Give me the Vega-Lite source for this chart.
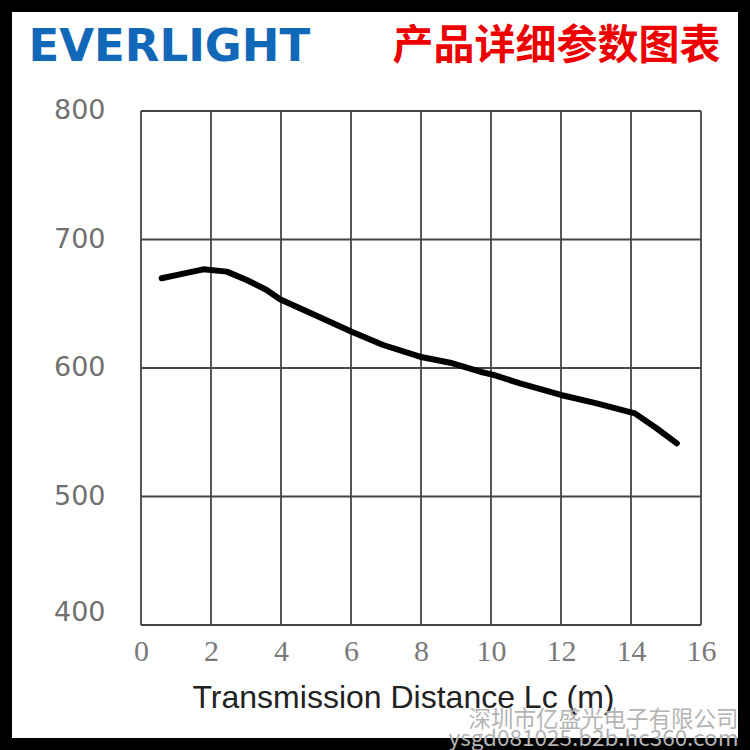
{
  "$schema": "https://vega.github.io/schema/vega-lite/v6.json",
  "width": 750,
  "height": 750,
  "autosize": {"type": "none"},
  "padding": 0,
  "background": "white",
  "config": {
    "view": {"stroke": "black", "strokeWidth": 24, "fill": "white"}
  },
  "datasets": {
    "curve": [
      {"d": 0.59, "p": 669.8},
      {"d": 1.11, "p": 672.9},
      {"d": 1.78, "p": 676.8},
      {"d": 2.45, "p": 675.0},
      {"d": 3.02, "p": 668.5},
      {"d": 3.59, "p": 660.7},
      {"d": 3.97, "p": 653.5},
      {"d": 4.54, "p": 646.5},
      {"d": 5.11, "p": 639.5},
      {"d": 6.02, "p": 628.2},
      {"d": 6.92, "p": 617.9},
      {"d": 7.97, "p": 608.8},
      {"d": 8.83, "p": 604.1},
      {"d": 9.69, "p": 597.1},
      {"d": 10.07, "p": 594.6},
      {"d": 10.83, "p": 588.1},
      {"d": 12.0, "p": 579.0},
      {"d": 13.02, "p": 572.5},
      {"d": 14.11, "p": 564.7},
      {"d": 14.73, "p": 553.1},
      {"d": 15.31, "p": 541.4}
    ],
    "vgrid": [
      {"gx": 0}, {"gx": 2}, {"gx": 4}, {"gx": 6}, {"gx": 8},
      {"gx": 10}, {"gx": 12}, {"gx": 14}, {"gx": 16}
    ],
    "hgrid": [
      {"gy": 400}, {"gy": 500}, {"gy": 600}, {"gy": 700}, {"gy": 800}
    ]
  },
  "resolve": {"axis": {"x": "independent", "y": "independent"}},
  "layer": [
    {
      "data": {"name": "vgrid"},
      "mark": {"type": "rule", "color": "#444444", "strokeWidth": 1.8},
      "encoding": {
        "x": {"field": "gx", "type": "quantitative", "axis": null,
              "scale": {"domain": [-4.0286, 17.4], "nice": false, "zero": false}},
        "y": {"datum": 400, "type": "quantitative",
              "scale": {"domain": [302.72, 886.38], "nice": false, "zero": false},
              "axis": {
                "orient": "right", "offset": 0, "labels": false, "ticks": false,
                "domain": false, "grid": false,
                "title": ["深圳市亿盛光电子有限公司", "ysgd081025.b2b.hc360.com"],
                "titleAngle": 0, "titleAlign": "right", "titleBaseline": "alphabetic",
                "titleX": -12, "titleY": 726, "titleLineHeight": 19,
                "titleFont": "Noto Sans CJK SC", "titleFontSize": 22.5,
                "titleFontWeight": "normal", "titleColor": "#b4b4b4"
              }},
        "y2": {"datum": 800}
      }
    },
    {
      "data": {"name": "hgrid"},
      "mark": {"type": "rule", "color": "#444444", "strokeWidth": 1.8},
      "encoding": {
        "y": {"field": "gy", "type": "quantitative", "axis": null,
              "scale": {"domain": [302.72, 886.38], "nice": false, "zero": false}},
        "x": {"datum": 0, "type": "quantitative",
              "scale": {"domain": [-4.0286, 17.4], "nice": false, "zero": false},
              "axis": {
                "orient": "top", "offset": 0, "labels": false, "ticks": false,
                "domain": false, "grid": false,
                "title": "产品详细参数图表",
                "titleAngle": 0, "titleAlign": "center", "titleBaseline": "middle",
                "titleX": 556, "titleY": 46,
                "titleFont": "Noto Sans CJK SC", "titleFontSize": 41,
                "titleFontWeight": "bold", "titleColor": "#ee0000"
              }},
        "x2": {"datum": 16}
      }
    },
    {
      "data": {"name": "curve"},
      "mark": {"type": "line", "color": "black", "strokeWidth": 6,
               "strokeCap": "round", "strokeJoin": "round", "interpolate": "linear"},
      "encoding": {
        "x": {"field": "d", "type": "quantitative",
              "scale": {"domain": [-4.0286, 17.4], "nice": false, "zero": false},
              "axis": {
                "orient": "bottom", "offset": -125,
                "values": [0, 2, 4, 6, 8, 10, 12, 14, 16],
                "ticks": false, "tickSize": 0, "domain": false, "grid": false,
                "labelFont": "Liberation Serif", "labelFontSize": 30,
                "labelColor": "#7a7a7a", "labelBaseline": "middle", "labelPadding": 26,
                "labelFlush": false, "labelOverlap": false,
                "title": "Transmission Distance Lc (m)",
                "titleFont": "Liberation Sans", "titleFontSize": 32,
                "titleFontWeight": "normal", "titleColor": "#222222",
                "titleAlign": "center", "titleBaseline": "alphabetic",
                "titleX": 403, "titleY": 82
              }},
        "y": {"field": "p", "type": "quantitative",
              "scale": {"domain": [302.72, 886.38], "nice": false, "zero": false},
              "axis": {
                "orient": "left", "offset": -141,
                "values": [400, 500, 600, 700, 800],
                "ticks": false, "tickSize": 0, "domain": false, "grid": false,
                "labelFont": "DejaVu Sans", "labelFontSize": 27,
                "labelColor": "#707070", "labelPadding": 36,
                "labelFlush": false, "labelOverlap": false,
                "labelOffset": {"condition": {"test": "datum.value == 400", "value": -12}, "value": 0},
                "title": "EVERLIGHT",
                "titleAngle": 0, "titleAlign": "left", "titleBaseline": "middle",
                "titleX": -113, "titleY": 46,
                "titleFont": "DejaVu Sans", "titleFontSize": 45,
                "titleFontWeight": "bold", "titleColor": "#1268b8"
              }}
      }
    }
  ]
}
